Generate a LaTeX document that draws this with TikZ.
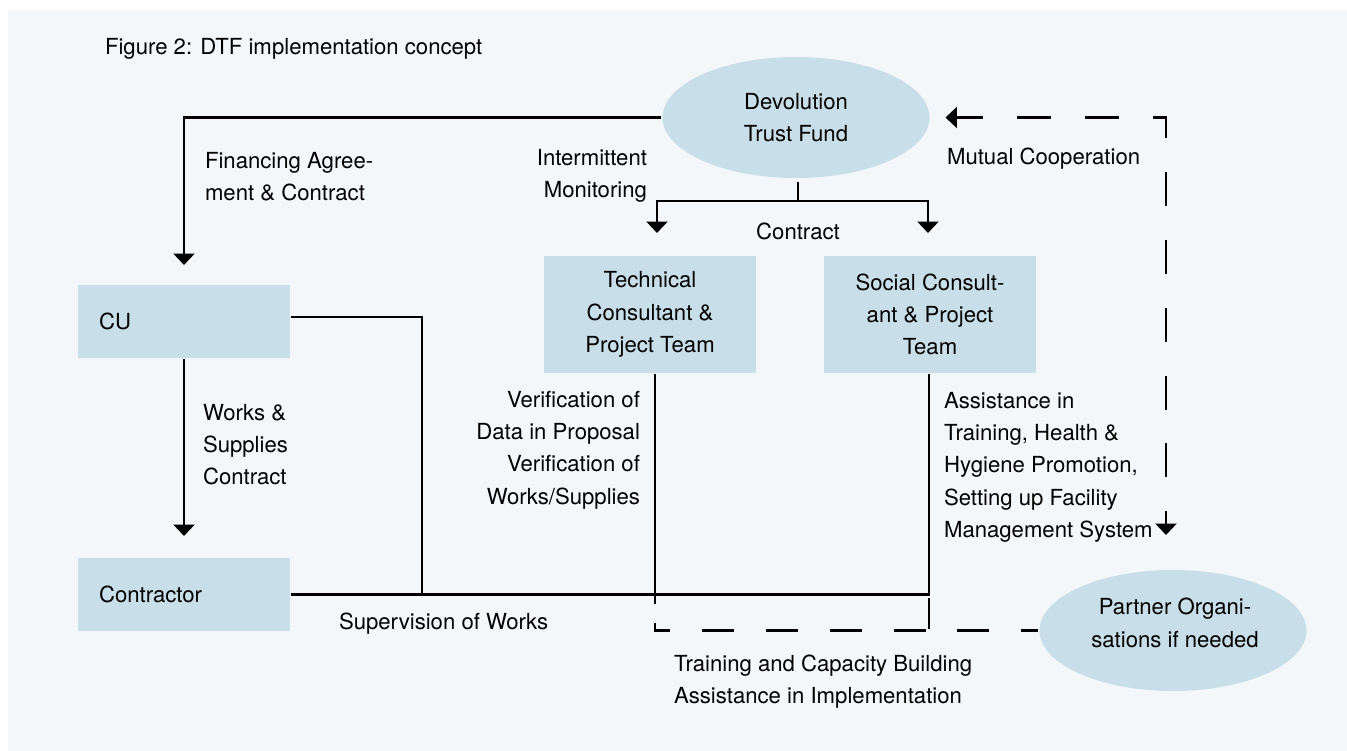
\documentclass[tikz,border=0pt]{standalone}
\usepackage{fontspec}
\setmainfont{TeX Gyre Heros}
\usetikzlibrary{arrows.meta,shapes.geometric,calc}
\definecolor{bgblue}{HTML}{F3F7FA}
\definecolor{boxblue}{HTML}{C8DEE9}
\begin{document}
\begin{tikzpicture}[x=0.02cm, y=-0.02cm, line width=1.2pt,
    every node/.style={font=\fontsize{12.6}{18.4}\selectfont, inner sep=0pt},
    box/.style={fill=boxblue, minimum width=4.24cm, minimum height=1.46cm},
    oval/.style={ellipse, fill=boxblue, minimum width=5.34cm, minimum height=2.42cm, align=center},
    arr/.style={-{Triangle[width=12pt,length=6.5pt]}},
    twoway/.style={{Triangle[width=12pt,length=6.5pt]}-{Triangle[width=12pt,length=6.5pt]}},
    dashline/.style={dash pattern=on 19.3pt off 19.3pt}]
    \useasboundingbox (0,0) rectangle (1347,751);
    \fill[bgblue] (8,10) rectangle (1347,751);
    \node[anchor=base west] (title) at (104,54) {Figure 2: DTF implementation concept};
    \node[oval] (dtf) at (796,117.5) {Devolution\\Trust Fund};
    \node[box, text width=3.4cm, inner xsep=0.42cm, align=left] (cu) at (184,321.5) {CU};
    \node[box, text width=3.4cm, inner xsep=0.42cm, align=left] (contractor) at (184,594.5) {Contractor};
    \node[box, minimum height=2.34cm, align=center] (tech) at (650,314.5) {Technical\\Consultant \&\\Project Team};
    \node[box, minimum height=2.34cm, align=center] (social) at (930,314.5) {Social Consult-\\ant \& Project\\Team};
    \node[oval] (partner) at (1173,630.5) {};
    \node[align=center] (partnertext) at (1175,623) {Partner Organi-\\sations if needed};
    \coordinate (fork) at ($(dtf.south)+(2,22)$);
    \draw[arr] (dtf.west) -| ([yshift=0.38cm]cu.north);
    \draw ($(dtf.south)+(2,3)$) -- (fork);
    \draw[arr] (fork) -| ($(tech.north)+(7,-22)$);
    \draw[arr] (fork) -| ($(social.north)+(-2,-22)$);
    \draw[arr] (cu.south) -- ($(contractor.north)+(0,-21)$);
    \draw ($(cu.east)+(0,-4.5)$) -| (422,595);
    \draw (contractor.east) -| ($(social.south)+(-1,0)$);
    \draw ($(tech.south)+(5,0)$) -- ++(0,230);
    \draw ($(social.south)+(-1,224)$) -- ++(0,31);
    \draw[dash pattern=on 18.2pt off 18.2pt, dash phase=8.5pt] (partner.west) -| ($(tech.south)+(5,249)$);
    \draw[dashline, dash phase=4pt, twoway, shorten <=0.3cm, shorten >=0.68cm] (dtf.east) -| ($(partner.north)+(-7,0)$);
    \node[anchor=north west, align=left] (financing) at (204,151) {Financing Agree-\\ment \& Contract};
    \node[anchor=north east, align=right] (monitoring) at (648,148) {Intermittent\\Monitoring};
    \node[anchor=base] (contract) at (798,239) {Contract};
    \node[anchor=base west] (mutual) at (946,164) {Mutual Cooperation};
    \node[anchor=north west, align=left] (works) at (202,403) {Works \&\\Supplies\\Contract};
    \node[anchor=north east, align=right] (verification) at (641,390) {Verification of\\Data in Proposal\\Verification of\\Works/Supplies};
    \node[anchor=north west, align=left] (assistance) at (943,391) {Assistance in\\Training, Health \&\\Hygiene Promotion,\\Setting up Facility\\Management System};
    \node[anchor=base west] (supervision) at (338,629) {Supervision of Works};
    \node[anchor=north west, align=left] (training) at (673,654) {Training and Capacity Building\\Assistance in Implementation};
\end{tikzpicture}
\end{document}
